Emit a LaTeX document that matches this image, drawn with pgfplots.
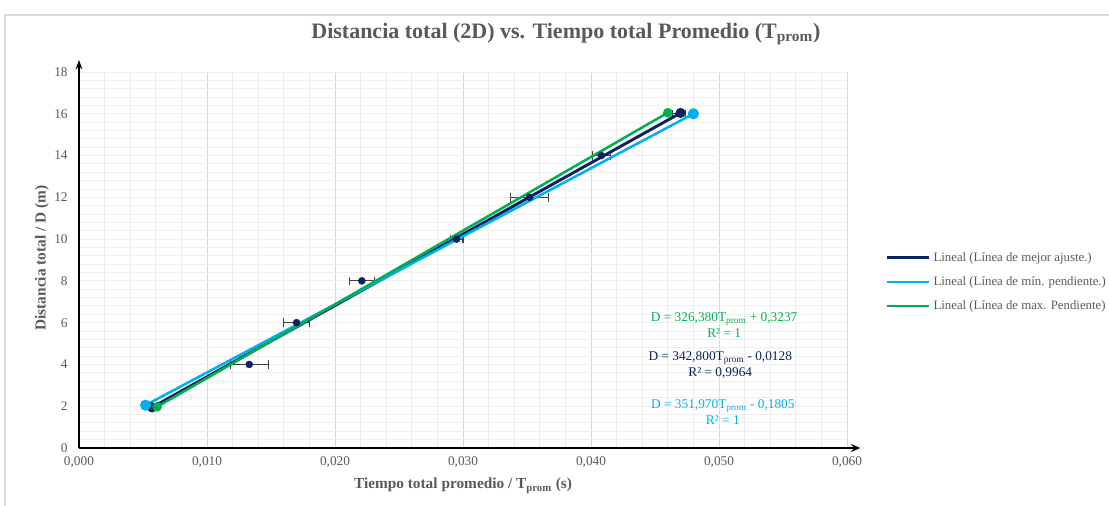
\documentclass[border=0pt]{standalone}
\usepackage{pgfplots}
\pgfplotsset{compat=1.18}
\usepackage{fontspec}
\setmainfont{Liberation Serif}
\usetikzlibrary{arrows.meta}
\definecolor{navy}{HTML}{0E2160}
\definecolor{lblue}{HTML}{00B0F0}
\definecolor{lgreen}{HTML}{00B050}
\definecolor{txtgray}{HTML}{595959}
\definecolor{gmaj}{HTML}{D9D9D9}
\definecolor{gmin}{HTML}{EEEEEE}
\definecolor{errc}{HTML}{404040}
\begin{document}
\begin{tikzpicture}[x=0.75pt,y=0.75pt]
\useasboundingbox (-79,-58) rectangle (1030,448);
\draw[gmaj, line width=0.8pt] (1040,433) -- (-74,433) -- (-74,-70);
\begin{axis}[
  at={(0,0)}, anchor=south west, scale only axis,
  width=576pt, height=282pt,
  xmin=0, xmax=0.06, ymin=0, ymax=18,
  xtick={0,0.01,0.02,0.03,0.04,0.05,0.06},
  ytick={0,2,4,6,8,10,12,14,16,18},
  minor x tick num=4, minor y tick num=4,
  grid=both,
  major x grid style={gmaj, line width=0.7pt},
  major y grid style={gmin, line width=0.7pt},
  minor grid style={gmin, line width=0.7pt},
  axis lines=left,
  x axis line style={black, line width=1.1pt, -{Stealth[length=7pt,width=6pt]}, shorten >=-10pt},
  y axis line style={black, line width=1.1pt, -{Stealth[length=7pt,width=5pt]}, shorten >=-9pt},
  major tick length=0pt, minor tick length=0pt,
  scaled x ticks=false,
  /pgf/number format/assume math mode=true,
  tick label style={font=\fontsize{10}{12}\selectfont, text=txtgray},
  xticklabel style={/pgf/number format/.cd, fixed, fixed zerofill, precision=3, use comma, /tikz/.cd, yshift=-3pt},
  yticklabel style={xshift=-5pt},
  title={Distancia total (2D) vs. Tiempo total Promedio (T\textsubscript{prom})},
  title style={at={(axis description cs:0.634,1.0798)}, anchor=center, font=\bfseries\fontsize{16.5}{19}\selectfont, text=txtgray},
  xlabel={Tiempo total promedio / T\textsubscript{prom} (s)},
  ylabel={Distancia total / D (m)},
  label style={font=\bfseries\fontsize{11.5}{13}\selectfont, text=txtgray},
  xlabel style={at={(axis description cs:0.5,-0.101)}, anchor=center},
  ylabel style={at={(axis description cs:-0.0482,0.505)}, anchor=center},
  legend style={at={(axis description cs:1.0495,0.4415)}, anchor=west, draw=none, fill=none,
    font=\fontsize{9.6}{11.5}\selectfont, text=txtgray, row sep=6pt, inner sep=0pt},
  legend cell align=left,
  legend image code/.code={\draw[#1] (0pt,0pt) -- (32pt,0pt);},
]
\addplot[forget plot, only marks, mark=*, mark size=2.6pt, color=navy,
  error bars/.cd, x dir=both, x explicit,
  error bar style={errc, line width=0.8pt},
  error mark options={errc, rotate=90, mark size=3.2pt, line width=0.8pt}]
  table[x=x, y=y, x error=ex] {
x y ex
0.0057 2 0.0004
0.0133 4 0.0015
0.0170 6 0.0010
0.0221 8 0.0010
0.0295 10 0.0005
0.0352 12 0.0015
0.0408 14 0.0007
0.0469 16 0.0005
};
\addplot[navy, line width=2.2pt, mark=*, mark size=2.6pt, mark options={fill=navy}] coordinates {(0.0057,1.94) (0.0470,16.04)};
\addlegendentry{Lineal (Línea de mejor ajuste.)}
\addplot[lblue, line width=1.9pt, mark=*, mark size=3.2pt, mark options={fill=lblue}] coordinates {(0.0052,2.05) (0.0480,16.0)};
\addlegendentry{Lineal (Línea de mín. pendiente.)}
\addplot[lgreen, line width=1.9pt, mark=*, mark size=2.6pt, mark options={fill=lgreen}] coordinates {(0.0061,1.97) (0.0460,16.05)};
\addlegendentry{Lineal (Línea de max. Pendiente)}
\node[lgreen, align=center, font=\fontsize{10}{12}\selectfont] at (axis cs:0.0504,5.89) {D = 326,380T\textsubscript{prom} + 0,3237\\R² = 1};
\node[navy, align=center, font=\fontsize{10}{12}\selectfont] at (axis cs:0.0501,3.97) {D = 342,800T\textsubscript{prom} - 0,0128\\R² = 0,9964};
\node[lblue, align=center, font=\fontsize{10}{12}\selectfont] at (axis cs:0.0503,1.72) {D = 351,970T\textsubscript{prom} - 0,1805\\R² = 1};
\end{axis}
\end{tikzpicture}
\end{document}
